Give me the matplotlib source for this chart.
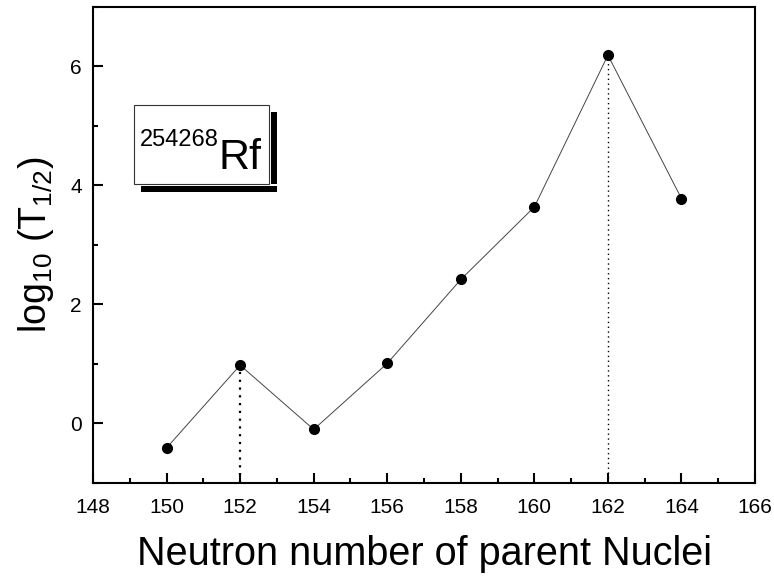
import matplotlib

matplotlib.use("Agg")
import matplotlib.pyplot as plt
from matplotlib.patches import Rectangle
from matplotlib.ticker import MultipleLocator

plt.rcParams["font.family"] = ["Liberation Sans", "DejaVu Sans"]
plt.rcParams["mathtext.fontset"] = "custom"
plt.rcParams["mathtext.rm"] = "Liberation Sans"
plt.rcParams["mathtext.it"] = "Liberation Sans:italic"

# ── Data: Rf isotopes, log10 of half-life vs neutron number ──
neutrons = [150, 152, 154, 156, 158, 160, 162, 164]
log_half_life = [-0.41, 0.98, -0.10, 1.01, 2.42, 3.64, 6.19, 3.78]

# shell-closure markers (N=152, N=162)
shell_n = [152, 162]
shell_lw = [1.6, 1.0]

fig = plt.figure(figsize=(7.74, 5.78), dpi=100)
ax = fig.add_axes([0.1202, 0.1644, 0.8553, 0.8235])

ax.plot(neutrons, log_half_life, color="#444444", lw=0.7, zorder=2)
ax.plot(neutrons, log_half_life, "o", color="black", ms=7, zorder=3)

for n, lw in zip(shell_n, shell_lw):
    y_top = log_half_life[neutrons.index(n)]
    ax.vlines(n, -1, y_top, colors="black", linestyles=(0, (1, 2.5)), lw=lw, zorder=1)

ax.set_xlim(148, 166)
ax.set_ylim(-1, 7)
ax.xaxis.set_major_locator(MultipleLocator(2))
ax.xaxis.set_minor_locator(MultipleLocator(1))
ax.yaxis.set_major_locator(MultipleLocator(2))
ax.yaxis.set_minor_locator(MultipleLocator(1))
ax.tick_params(which="both", direction="in", top=False, right=False, width=1.5,
               labelsize=15)
ax.tick_params(which="major", length=7)
ax.tick_params(which="minor", length=3.5)
ax.tick_params(axis="x", pad=11)
ax.tick_params(axis="y", pad=8)
for sp in ax.spines.values():
    sp.set_linewidth(1.5)

ax.set_xlabel("Neutron number of parent Nuclei", fontsize=28.5, labelpad=13)
ax.set_ylabel(r"$\mathregular{log_{10}\ (T_{1/2})}$", fontsize=27, labelpad=10)

# nucleus label box with a drop shadow
ax.add_patch(Rectangle((0.2689, 0.628), 0.009, 0.151, transform=ax.transAxes,
                       facecolor="black", edgecolor="none", zorder=4))
ax.add_patch(Rectangle((0.0725, 0.611), 0.2054, 0.013, transform=ax.transAxes,
                       facecolor="black", edgecolor="none", zorder=4))
ax.add_patch(Rectangle((0.0619, 0.628), 0.204, 0.166, transform=ax.transAxes,
                       facecolor="white", edgecolor="#333333", lw=0.8, zorder=5))
ax.text(0.071, 0.708, "254268", transform=ax.transAxes, fontsize=17,
        va="baseline", ha="left", zorder=6)
ax.text(0.189, 0.660, "Rf", transform=ax.transAxes, fontsize=31,
        va="baseline", ha="left", zorder=6)

fig.savefig("out.png", dpi=100)
